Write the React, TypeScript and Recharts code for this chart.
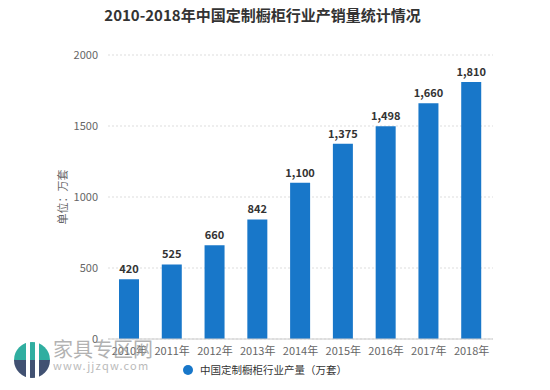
import React from "react";
import { BarChart, Bar, XAxis, YAxis, CartesianGrid, LabelList } from "recharts";

const years = ["2010年", "2011年", "2012年", "2013年", "2014年", "2015年", "2016年", "2017年", "2018年"];
const output = [420, 525, 660, 842, 1100, 1375, 1498, 1660, 1810];
const yTicks = [0, 500, 1000, 1500, 2000];

const data = years.map((year, i) => ({ year, value: output[i] }));

const FONT = "'Noto Sans CJK SC', 'Noto Sans', sans-serif";
const BLUE = "#1877c9";

export default function App() {
  return (
    <div style={{ position: "absolute", left: 0, top: 0, width: 550, height: 390, background: "#fff", fontFamily: FONT }}>
      <div style={{ position: "absolute", top: 4, left: 0, width: 525, textAlign: "center", fontSize: 15, fontWeight: 700, color: "#333" }}>
        2010-2018年中国定制橱柜行业产销量统计情况
      </div>
      <div
        style={{
          position: "absolute", left: 62, top: 197, transform: "translate(-50%, -50%) rotate(-90deg)",
          fontSize: 11, color: "#666", whiteSpace: "nowrap",
        }}
      >
        单位：万套
      </div>
      <BarChart width={550} height={390} data={data} margin={{ top: 55, right: 57, left: 60, bottom: 21 }}>
        <CartesianGrid vertical={false} stroke="#ddd" strokeDasharray="2 2" />
        <XAxis
          dataKey="year"
          height={30}
          tick={{ fill: "#666", fontSize: 11, fontFamily: FONT }}
          axisLine={{ stroke: "#ccc" }}
          tickLine={false}
          interval={0}
        />
        <YAxis
          width={48}
          domain={[0, 2000]}
          ticks={yTicks}
          tick={{ fill: "#666", fontSize: 11, fontFamily: FONT }}
          axisLine={false}
          tickLine={false}
          tickMargin={4}
        />
        <Bar dataKey="value" fill={BLUE} barSize={20} isAnimationActive={false}>
          <LabelList
            dataKey="value"
            position="top"
            offset={6}
            formatter={(v: number) => v.toLocaleString("en-US")}
            style={{ fill: "#333", fontSize: 11, fontWeight: 700, fontFamily: FONT }}
          />
        </Bar>
      </BarChart>
      <div style={{ position: "absolute", left: 12, top: 340, width: 40, height: 40 }}>
        <svg width={40} height={40}>
          <path d="M2,20 A18,18 0 0 1 38,20 Z" fill="#1aa596" opacity={0.9} />
          <path d="M2,20 A18,18 0 0 0 38,20 Z" fill="#2c3e63" opacity={0.9} />
          <rect x={14} y={0} width={4} height={40} fill="#fff" />
          <rect x={23} y={0} width={4} height={40} fill="#fff" />
        </svg>
      </div>
      <div style={{ position: "absolute", left: 53, top: 334, fontSize: 20, color: "#999", opacity: 0.75, letterSpacing: 0 }}>
        家具专区网
      </div>
      <div style={{ position: "absolute", left: 53, top: 357, fontSize: 11, color: "#aaa", opacity: 0.8, letterSpacing: 1.2 }}>
        www.jjzqw.com
      </div>
      <div style={{ position: "absolute", left: 183, top: 362, display: "flex", alignItems: "center", fontSize: 10.5, color: "#333" }}>
        <span style={{ width: 10, height: 10, borderRadius: 5, background: BLUE, display: "inline-block", marginRight: 7 }} />
        中国定制橱柜行业产量（万套）
      </div>
    </div>
  );
}
